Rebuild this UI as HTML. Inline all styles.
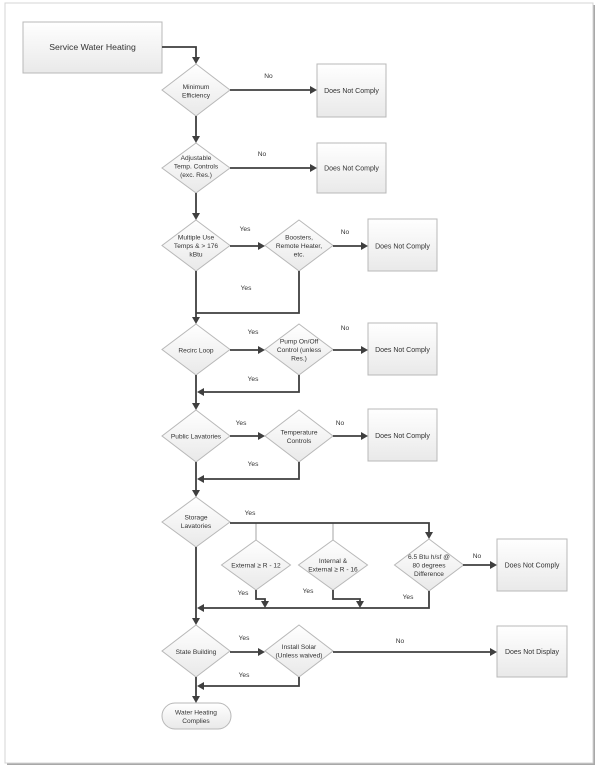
<!DOCTYPE html>
<html><head><meta charset="utf-8">
<style>
html,body{margin:0;padding:0;background:#fff;}
svg{display:block;}
text{font-family:"Liberation Sans",sans-serif;fill:#333;}
</style></head>
<body>
<svg width="601" height="773" viewBox="0 0 601 773" xmlns="http://www.w3.org/2000/svg">
<defs>
<linearGradient id="g" x1="0" y1="0" x2="0" y2="1">
<stop offset="0" stop-color="#ffffff"/><stop offset="1" stop-color="#e9e9e9"/>
</linearGradient>
</defs>
<!-- page frame -->
<rect x="7" y="5" width="588" height="760" fill="#a8a8a8"/>
<rect x="5" y="3" width="588" height="760" fill="#fff" stroke="#d4d4d4" stroke-width="1"/>

<g fill="url(#g)" stroke="#b8b8b8" stroke-width="1">
<!-- boxes -->
<rect x="23" y="22" width="139" height="51"/>
<rect x="317" y="64" width="69" height="53"/>
<rect x="317" y="143" width="69" height="50"/>
<rect x="368" y="219" width="69" height="52"/>
<rect x="368" y="323" width="69" height="52"/>
<rect x="368" y="409" width="69" height="52"/>
<rect x="497" y="539" width="70" height="52"/>
<rect x="497" y="626" width="70" height="51"/>
<!-- diamonds -->
<polygon points="196,64 230,90 196,116 162,90"/>
<polygon points="196,143 230,168 196,193 162,168"/>
<polygon points="196,220 230,245.5 196,271 162,245.5"/>
<polygon points="299,220 333,245.5 299,271 265,245.5"/>
<polygon points="196,324 230,349.5 196,375 162,349.5"/>
<polygon points="299,324 333,349.5 299,375 265,349.5"/>
<polygon points="196,410 230,436 196,462 162,436"/>
<polygon points="299,410 333,436 299,462 265,436"/>
<polygon points="196,497 230,522 196,547 162,522"/>
<polygon points="256,540 290.5,565 256,590 221.5,565"/>
<polygon points="333,540 367.5,565 333,590 298.5,565"/>
<polygon points="429,539 463.5,565 429,591 394.5,565"/>
<polygon points="196,625 230,651 196,677 162,651"/>
<polygon points="299,625 333,651 299,677 265,651"/>
<!-- terminator -->
<rect x="162" y="703" width="69" height="26" rx="13" ry="13"/>
</g>

<!-- gray branch lines -->
<g stroke="#b5b5b5" stroke-width="1.2" fill="none">
<line x1="256" y1="523" x2="256" y2="540"/>
<line x1="333" y1="523" x2="333" y2="540"/>
</g>

<!-- connectors -->
<g stroke="#3f3f3f" stroke-width="1.8" fill="none">
<polyline points="162,47 196,47 196,58"/>
<line x1="230" y1="90" x2="311" y2="90"/>
<line x1="196" y1="116" x2="196" y2="137"/>
<line x1="230" y1="168" x2="311" y2="168"/>
<line x1="196" y1="193" x2="196" y2="214"/>
<line x1="230" y1="246" x2="259" y2="246"/>
<line x1="333" y1="246" x2="362" y2="246"/>
<polyline points="299,271 299,313 196,313"/>
<line x1="196" y1="271" x2="196" y2="318"/>
<line x1="230" y1="350" x2="259" y2="350"/>
<line x1="333" y1="350" x2="362" y2="350"/>
<polyline points="299,375 299,392 202,392"/>
<line x1="196" y1="375" x2="196" y2="404"/>
<line x1="230" y1="436" x2="259" y2="436"/>
<line x1="333" y1="436" x2="362" y2="436"/>
<polyline points="299,462 299,479 202,479"/>
<line x1="196" y1="462" x2="196" y2="491"/>
<polyline points="230,523 429,523 429,533"/>
<line x1="463" y1="565" x2="491" y2="565"/>
<polyline points="256,590 256,599 265,599 265,602"/>
<polyline points="333,590 333,599 360,599 360,602"/>
<polyline points="429,591 429,608 202,608"/>
<line x1="196" y1="547" x2="196" y2="619"/>
<line x1="230" y1="652" x2="259" y2="652"/>
<line x1="333" y1="652" x2="491" y2="652"/>
<polyline points="299,677 299,686 202,686"/>
<line x1="196" y1="677" x2="196" y2="697"/>
</g>

<!-- arrowheads -->
<g fill="#3f3f3f">
<polygon points="192,57 200,57 196,64"/>
<polygon points="310,86 310,94 317,90"/>
<polygon points="192,136 200,136 196,143"/>
<polygon points="310,164 310,172 317,168"/>
<polygon points="192,213 200,213 196,220"/>
<polygon points="258,242 258,250 265,246"/>
<polygon points="361,242 361,250 368,246"/>
<polygon points="192,317 200,317 196,324"/>
<polygon points="258,346 258,354 265,350"/>
<polygon points="361,346 361,354 368,350"/>
<polygon points="204,388 204,396 197,392"/>
<polygon points="192,403 200,403 196,410"/>
<polygon points="258,432 258,440 265,436"/>
<polygon points="361,432 361,440 368,436"/>
<polygon points="204,475 204,483 197,479"/>
<polygon points="192,490 200,490 196,497"/>
<polygon points="425,532 433,532 429,539"/>
<polygon points="490,561 490,569 497,565"/>
<polygon points="261,601 269,601 265,608"/>
<polygon points="356,601 364,601 360,608"/>
<polygon points="204,604 204,612 197,608"/>
<polygon points="192,618 200,618 196,625"/>
<polygon points="258,648 258,656 265,652"/>
<polygon points="490,648 490,656 497,652"/>
<polygon points="204,682 204,690 197,686"/>
<polygon points="192,696 200,696 196,703"/>
</g>

<!-- text -->
<text x="92.5" y="50" font-size="8.7" text-anchor="middle">Service Water Heating</text>

<g font-size="6.6" text-anchor="middle">
<text x="196" y="89">Minimum</text>
<text x="196" y="97.5">Efficiency</text>

<text x="196" y="160">Adjustable</text>
<text x="196" y="168.5">Temp. Controls</text>
<text x="196" y="177">(exc. Res.)</text>

<text x="196" y="239.5">Multiple Use</text>
<text x="196" y="248">Temps &amp; &gt; 176</text>
<text x="196" y="256.5">kBtu</text>

<text x="299" y="239.5">Boosters,</text>
<text x="299" y="248">Remote Heater,</text>
<text x="299" y="256.5">etc.</text>

<text x="196" y="352.5">Recirc Loop</text>

<text x="299" y="343.5">Pump On/Off</text>
<text x="299" y="352">Control (unless</text>
<text x="299" y="360.5">Res.)</text>

<text x="196" y="438.5">Public Lavatories</text>

<text x="299" y="434.5">Temperature</text>
<text x="299" y="443">Controls</text>

<text x="196" y="519.5">Storage</text>
<text x="196" y="528">Lavatories</text>

<text x="256" y="567.5">External ≥ R - 12</text>

<text x="333" y="563">Internal &amp;</text>
<text x="333" y="571.5">External ≥ R - 16</text>

<text x="429" y="559">6.5 Btu h/sf @</text>
<text x="429" y="567.5">80 degrees</text>
<text x="429" y="576">Difference</text>

<text x="196" y="654">State Building</text>

<text x="299" y="649">Install Solar</text>
<text x="299" y="657.5">(Unless waived)</text>

<text x="196" y="714.5">Water Heating</text>
<text x="196" y="723">Complies</text>
</g>

<g font-size="7" text-anchor="middle">
<text x="351.5" y="93">Does Not Comply</text>
<text x="351.5" y="170.5">Does Not Comply</text>
<text x="402.5" y="248.5">Does Not Comply</text>
<text x="402.5" y="352">Does Not Comply</text>
<text x="402.5" y="438">Does Not Comply</text>
<text x="532" y="567.5">Does Not Comply</text>
<text x="532" y="654">Does Not Display</text>
</g>

<g font-size="6.6" text-anchor="middle">
<text x="268.5" y="78">No</text>
<text x="262" y="156">No</text>
<text x="245" y="231">Yes</text>
<text x="345" y="234">No</text>
<text x="246" y="290">Yes</text>
<text x="253" y="334">Yes</text>
<text x="345" y="330">No</text>
<text x="253" y="381">Yes</text>
<text x="241" y="425">Yes</text>
<text x="340" y="425">No</text>
<text x="253" y="466">Yes</text>
<text x="250" y="515">Yes</text>
<text x="243" y="595">Yes</text>
<text x="308" y="593">Yes</text>
<text x="408" y="599">Yes</text>
<text x="477" y="558">No</text>
<text x="244" y="640">Yes</text>
<text x="400" y="643">No</text>
<text x="244" y="677">Yes</text>
</g>
</svg>
</body></html>
